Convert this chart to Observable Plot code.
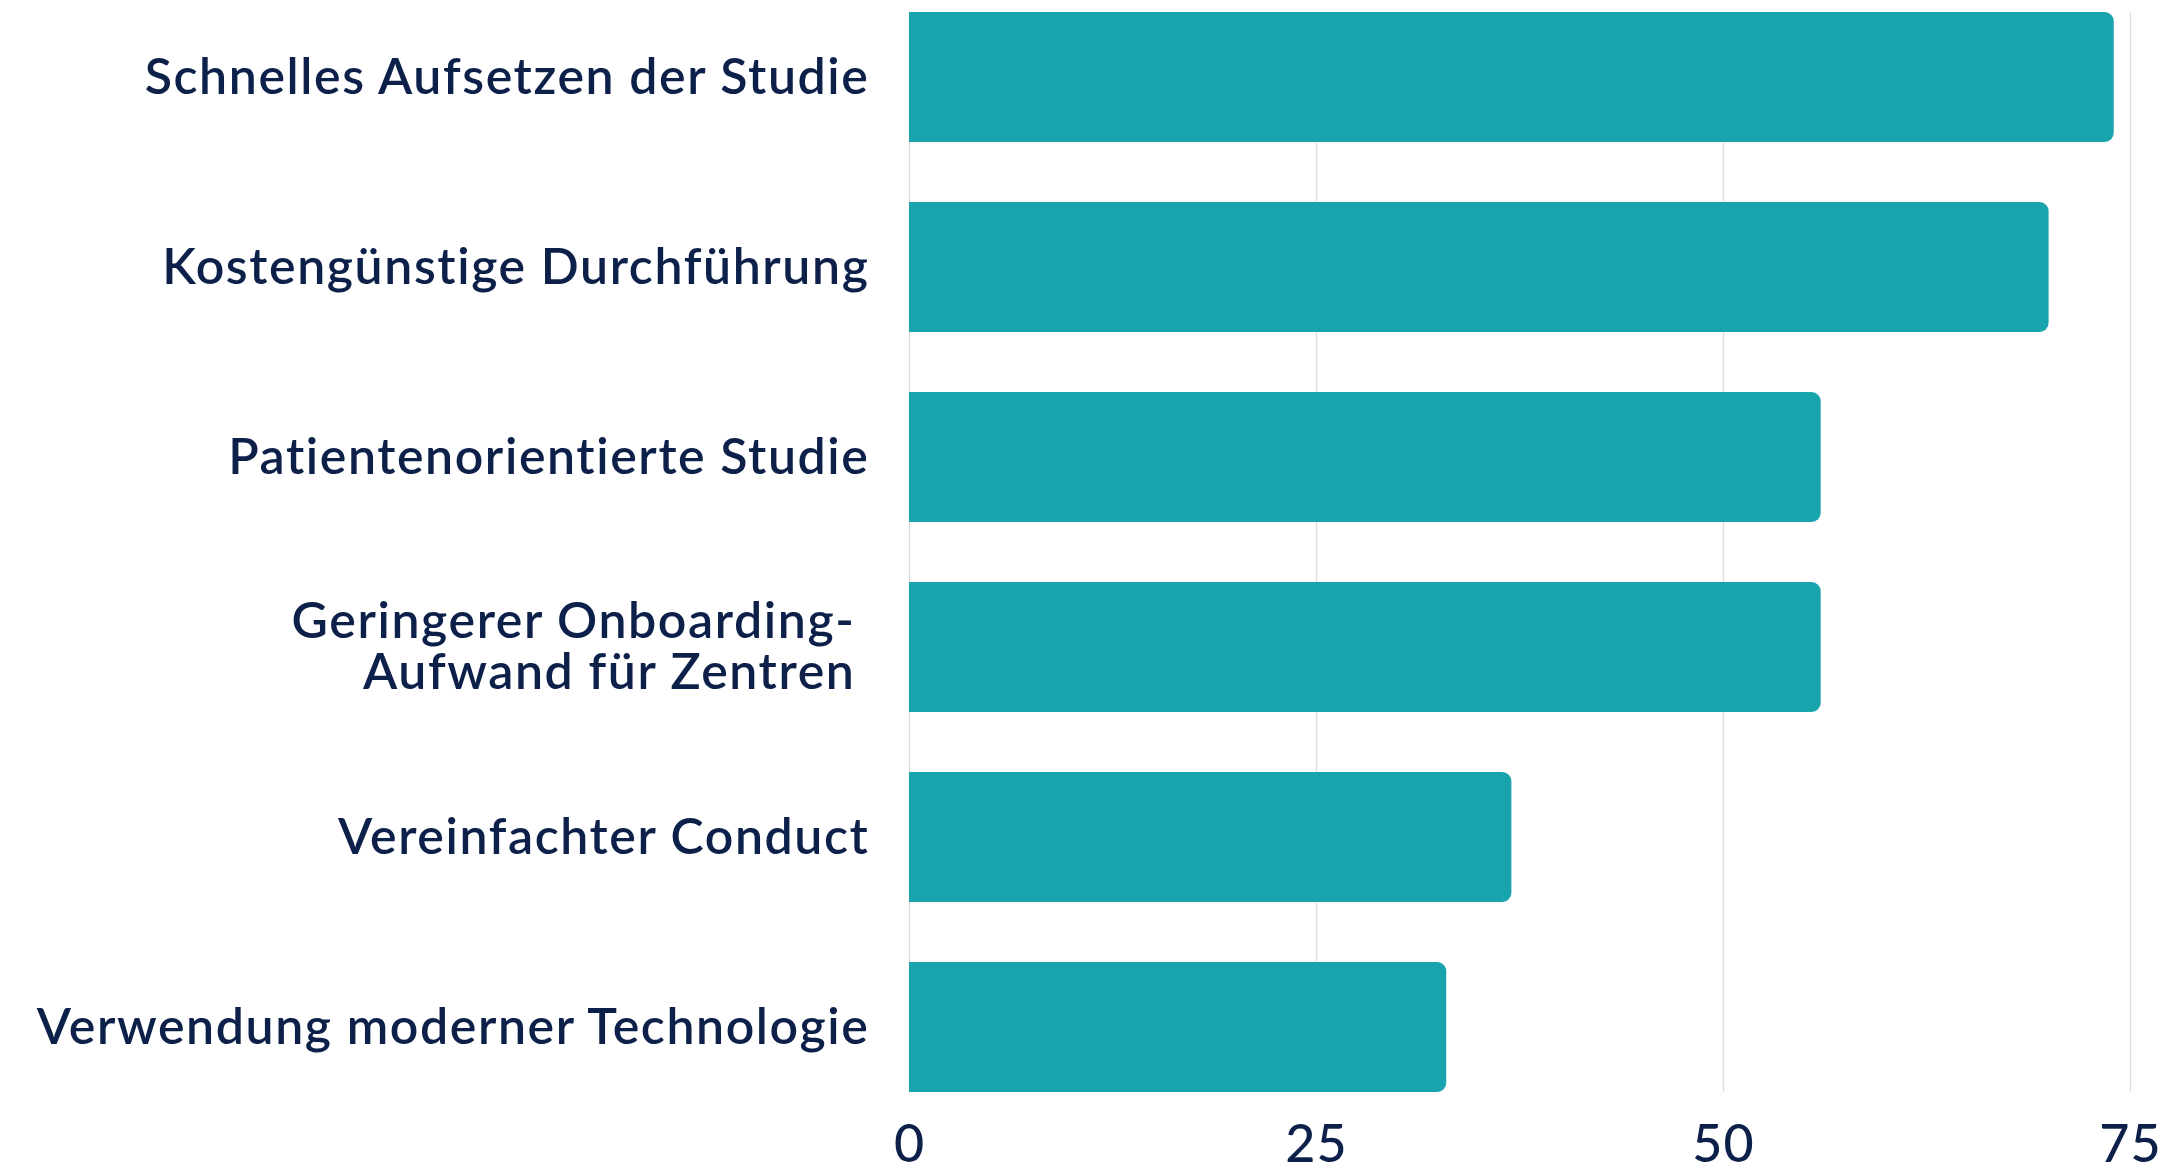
<!DOCTYPE html>
<html>
<head>
<meta charset="utf-8">
<script src="https://cdn.jsdelivr.net/npm/d3@7"></script>
<script src="https://cdn.jsdelivr.net/npm/@observablehq/plot@0.6"></script>
<style>
  html, body { margin: 0; padding: 0; background: #ffffff; }
  #chart svg { display: block; }
  #chart svg g[aria-label="y-axis tick label"] text { letter-spacing: 1.6px; }
  #chart svg g[aria-label="x-axis tick label"] text { letter-spacing: 1px; }
</style>
</head>
<body>
<div id="chart"></div>
<script>
const categories = [
  "Schnelles Aufsetzen der Studie",
  "Kostengünstige Durchführung",
  "Patientenorientierte Studie",
  "Geringerer Onboarding-\u00a0\nAufwand für Zentren\u00a0",
  "Vereinfachter Conduct",
  "Verwendung moderner Technologie"
];
const values = [74, 70, 56, 56, 37, 33];
const xTicks = [0, 25, 50, 75];

const data = categories.map((c, i) => ({category: c, value: values[i]}));

const navy = "#0c2049";
const teal = "#19a3ad";

const chart = Plot.plot({
  width: 2167,
  height: 1172,
  marginLeft: 909,
  marginRight: 37,
  marginTop: 12,
  marginBottom: 80,
  style: {fontFamily: "Lato, sans-serif", color: navy, background: "#ffffff"},
  x: {domain: [0, 75], ticks: xTicks, label: null},
  y: {domain: categories, label: null, paddingInner: 0.316, paddingOuter: 0},
  marks: [
    Plot.gridX(xTicks, {stroke: "#dcdde3", strokeOpacity: 1, strokeWidth: 1.3}),
    Plot.barX(data, {y: "category", x: "value", fill: teal, rx: 9}),
    Plot.barX(data, {y: "category", x1: 0, x2: d => d.value / 2, fill: teal}),
    Plot.axisX({ticks: xTicks, tickSize: 0, tickPadding: 33, fontSize: 52, fontWeight: 500, fill: navy, label: null}),
    Plot.axisY({tickSize: 0, tickPadding: 40, fontSize: 50, fill: navy, fontWeight: 600, label: null, lineHeight: 1.02})
  ]
});
document.getElementById("chart").appendChild(chart);
</script>
</body>
</html>
